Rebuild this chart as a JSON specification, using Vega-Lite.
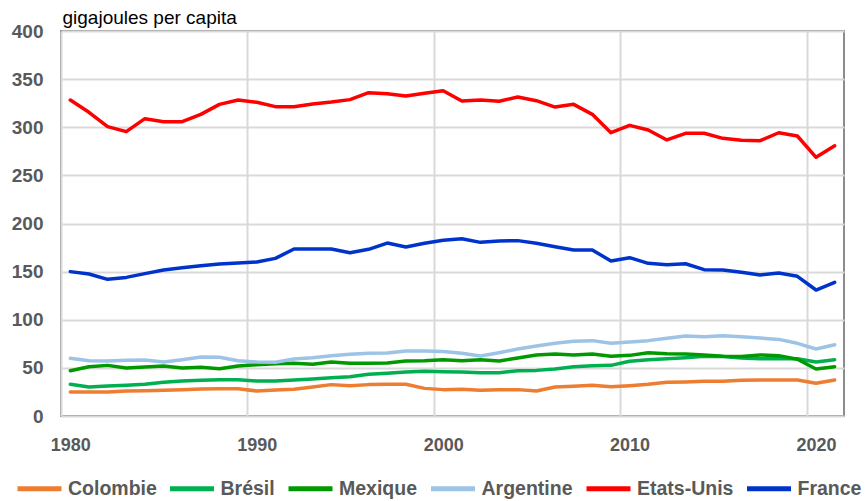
{
 "$schema": "https://vega.github.io/schema/vega-lite/v6.json",
 "width": 783, "height": 385,
 "autosize": {"type": "none"},
 "padding": {"left": 61, "top": 31, "right": 23, "bottom": 85},
 "background": "white",
 "config": {"view": {"stroke": "#8c8c8c", "strokeWidth": 2}, "font": "Liberation Sans"},
 "data": {"values": [
{"year":1980,"pays":"Colombie","gj":24.9},{"year":1981,"pays":"Colombie","gj":24.9},{"year":1982,"pays":"Colombie","gj":24.9},{"year":1983,"pays":"Colombie","gj":26.0},{"year":1984,"pays":"Colombie","gj":26.3},{"year":1985,"pays":"Colombie","gj":26.7},{"year":1986,"pays":"Colombie","gj":27.4},{"year":1987,"pays":"Colombie","gj":28.1},{"year":1988,"pays":"Colombie","gj":28.4},{"year":1989,"pays":"Colombie","gj":28.4},{"year":1990,"pays":"Colombie","gj":26.0},{"year":1991,"pays":"Colombie","gj":27.0},{"year":1992,"pays":"Colombie","gj":27.7},{"year":1993,"pays":"Colombie","gj":30.1},{"year":1994,"pays":"Colombie","gj":32.6},{"year":1995,"pays":"Colombie","gj":31.5},{"year":1996,"pays":"Colombie","gj":32.6},{"year":1997,"pays":"Colombie","gj":32.9},{"year":1998,"pays":"Colombie","gj":32.9},{"year":1999,"pays":"Colombie","gj":28.7},{"year":2000,"pays":"Colombie","gj":27.4},{"year":2001,"pays":"Colombie","gj":27.7},{"year":2002,"pays":"Colombie","gj":26.7},{"year":2003,"pays":"Colombie","gj":27.4},{"year":2004,"pays":"Colombie","gj":27.4},{"year":2005,"pays":"Colombie","gj":26.0},{"year":2006,"pays":"Colombie","gj":30.1},{"year":2007,"pays":"Colombie","gj":30.8},{"year":2008,"pays":"Colombie","gj":31.9},{"year":2009,"pays":"Colombie","gj":30.5},{"year":2010,"pays":"Colombie","gj":31.5},{"year":2011,"pays":"Colombie","gj":32.9},{"year":2012,"pays":"Colombie","gj":35.0},{"year":2013,"pays":"Colombie","gj":35.3},{"year":2014,"pays":"Colombie","gj":36.0},{"year":2015,"pays":"Colombie","gj":36.0},{"year":2016,"pays":"Colombie","gj":37.1},{"year":2017,"pays":"Colombie","gj":37.4},{"year":2018,"pays":"Colombie","gj":37.4},{"year":2019,"pays":"Colombie","gj":37.4},{"year":2020,"pays":"Colombie","gj":34.0},{"year":2021,"pays":"Colombie","gj":37.4},
{"year":1980,"pays":"Brésil","gj":32.9},{"year":1981,"pays":"Brésil","gj":30.1},{"year":1982,"pays":"Brésil","gj":31.2},{"year":1983,"pays":"Brésil","gj":31.9},{"year":1984,"pays":"Brésil","gj":32.9},{"year":1985,"pays":"Brésil","gj":35.0},{"year":1986,"pays":"Brésil","gj":36.4},{"year":1987,"pays":"Brésil","gj":37.1},{"year":1988,"pays":"Brésil","gj":37.7},{"year":1989,"pays":"Brésil","gj":37.7},{"year":1990,"pays":"Brésil","gj":36.4},{"year":1991,"pays":"Brésil","gj":36.4},{"year":1992,"pays":"Brésil","gj":37.4},{"year":1993,"pays":"Brésil","gj":38.4},{"year":1994,"pays":"Brésil","gj":39.8},{"year":1995,"pays":"Brésil","gj":40.8},{"year":1996,"pays":"Brésil","gj":43.3},{"year":1997,"pays":"Brésil","gj":44.3},{"year":1998,"pays":"Brésil","gj":45.7},{"year":1999,"pays":"Brésil","gj":46.4},{"year":2000,"pays":"Brésil","gj":46.1},{"year":2001,"pays":"Brésil","gj":45.7},{"year":2002,"pays":"Brésil","gj":45.0},{"year":2003,"pays":"Brésil","gj":45.0},{"year":2004,"pays":"Brésil","gj":47.1},{"year":2005,"pays":"Brésil","gj":47.4},{"year":2006,"pays":"Brésil","gj":48.8},{"year":2007,"pays":"Brésil","gj":51.2},{"year":2008,"pays":"Brésil","gj":52.3},{"year":2009,"pays":"Brésil","gj":52.6},{"year":2010,"pays":"Brésil","gj":56.8},{"year":2011,"pays":"Brésil","gj":58.5},{"year":2012,"pays":"Brésil","gj":59.5},{"year":2013,"pays":"Brésil","gj":60.6},{"year":2014,"pays":"Brésil","gj":62.0},{"year":2015,"pays":"Brésil","gj":61.7},{"year":2016,"pays":"Brésil","gj":60.3},{"year":2017,"pays":"Brésil","gj":59.5},{"year":2018,"pays":"Brésil","gj":59.5},{"year":2019,"pays":"Brésil","gj":59.5},{"year":2020,"pays":"Brésil","gj":56.1},{"year":2021,"pays":"Brésil","gj":58.5},
{"year":1980,"pays":"Mexique","gj":47.1},{"year":1981,"pays":"Mexique","gj":51.2},{"year":1982,"pays":"Mexique","gj":52.6},{"year":1983,"pays":"Mexique","gj":49.9},{"year":1984,"pays":"Mexique","gj":50.9},{"year":1985,"pays":"Mexique","gj":51.9},{"year":1986,"pays":"Mexique","gj":49.9},{"year":1987,"pays":"Mexique","gj":50.6},{"year":1988,"pays":"Mexique","gj":49.2},{"year":1989,"pays":"Mexique","gj":51.9},{"year":1990,"pays":"Mexique","gj":53.3},{"year":1991,"pays":"Mexique","gj":54.3},{"year":1992,"pays":"Mexique","gj":54.7},{"year":1993,"pays":"Mexique","gj":53.7},{"year":1994,"pays":"Mexique","gj":56.1},{"year":1995,"pays":"Mexique","gj":54.7},{"year":1996,"pays":"Mexique","gj":54.7},{"year":1997,"pays":"Mexique","gj":55.1},{"year":1998,"pays":"Mexique","gj":57.1},{"year":1999,"pays":"Mexique","gj":57.5},{"year":2000,"pays":"Mexique","gj":58.5},{"year":2001,"pays":"Mexique","gj":57.5},{"year":2002,"pays":"Mexique","gj":58.5},{"year":2003,"pays":"Mexique","gj":57.1},{"year":2004,"pays":"Mexique","gj":60.3},{"year":2005,"pays":"Mexique","gj":63.4},{"year":2006,"pays":"Mexique","gj":64.4},{"year":2007,"pays":"Mexique","gj":63.4},{"year":2008,"pays":"Mexique","gj":64.4},{"year":2009,"pays":"Mexique","gj":62.0},{"year":2010,"pays":"Mexique","gj":63.0},{"year":2011,"pays":"Mexique","gj":65.8},{"year":2012,"pays":"Mexique","gj":64.8},{"year":2013,"pays":"Mexique","gj":64.4},{"year":2014,"pays":"Mexique","gj":63.4},{"year":2015,"pays":"Mexique","gj":62.0},{"year":2016,"pays":"Mexique","gj":61.7},{"year":2017,"pays":"Mexique","gj":63.4},{"year":2018,"pays":"Mexique","gj":62.7},{"year":2019,"pays":"Mexique","gj":58.9},{"year":2020,"pays":"Mexique","gj":48.8},{"year":2021,"pays":"Mexique","gj":51.2},
{"year":1980,"pays":"Argentine","gj":59.9},{"year":1981,"pays":"Argentine","gj":57.5},{"year":1982,"pays":"Argentine","gj":57.1},{"year":1983,"pays":"Argentine","gj":57.8},{"year":1984,"pays":"Argentine","gj":58.2},{"year":1985,"pays":"Argentine","gj":56.1},{"year":1986,"pays":"Argentine","gj":58.5},{"year":1987,"pays":"Argentine","gj":61.3},{"year":1988,"pays":"Argentine","gj":61.0},{"year":1989,"pays":"Argentine","gj":57.5},{"year":1990,"pays":"Argentine","gj":56.1},{"year":1991,"pays":"Argentine","gj":55.8},{"year":1992,"pays":"Argentine","gj":59.2},{"year":1993,"pays":"Argentine","gj":60.6},{"year":1994,"pays":"Argentine","gj":62.7},{"year":1995,"pays":"Argentine","gj":64.1},{"year":1996,"pays":"Argentine","gj":65.1},{"year":1997,"pays":"Argentine","gj":65.5},{"year":1998,"pays":"Argentine","gj":67.5},{"year":1999,"pays":"Argentine","gj":67.5},{"year":2000,"pays":"Argentine","gj":67.0},{"year":2001,"pays":"Argentine","gj":65.1},{"year":2002,"pays":"Argentine","gj":62.3},{"year":2003,"pays":"Argentine","gj":65.8},{"year":2004,"pays":"Argentine","gj":69.6},{"year":2005,"pays":"Argentine","gj":72.7},{"year":2006,"pays":"Argentine","gj":75.5},{"year":2007,"pays":"Argentine","gj":77.6},{"year":2008,"pays":"Argentine","gj":78.3},{"year":2009,"pays":"Argentine","gj":75.5},{"year":2010,"pays":"Argentine","gj":76.9},{"year":2011,"pays":"Argentine","gj":78.3},{"year":2012,"pays":"Argentine","gj":80.7},{"year":2013,"pays":"Argentine","gj":83.1},{"year":2014,"pays":"Argentine","gj":82.4},{"year":2015,"pays":"Argentine","gj":83.4},{"year":2016,"pays":"Argentine","gj":82.4},{"year":2017,"pays":"Argentine","gj":81.0},{"year":2018,"pays":"Argentine","gj":79.6},{"year":2019,"pays":"Argentine","gj":75.5},{"year":2020,"pays":"Argentine","gj":69.6},{"year":2021,"pays":"Argentine","gj":74.1},
{"year":1980,"pays":"Etats-Unis","gj":328.3},{"year":1981,"pays":"Etats-Unis","gj":315.5},{"year":1982,"pays":"Etats-Unis","gj":300.6},{"year":1983,"pays":"Etats-Unis","gj":295.4},{"year":1984,"pays":"Etats-Unis","gj":308.9},{"year":1985,"pays":"Etats-Unis","gj":305.8},{"year":1986,"pays":"Etats-Unis","gj":305.8},{"year":1987,"pays":"Etats-Unis","gj":313.4},{"year":1988,"pays":"Etats-Unis","gj":323.8},{"year":1989,"pays":"Etats-Unis","gj":328.3},{"year":1990,"pays":"Etats-Unis","gj":325.9},{"year":1991,"pays":"Etats-Unis","gj":321.4},{"year":1992,"pays":"Etats-Unis","gj":321.4},{"year":1993,"pays":"Etats-Unis","gj":324.2},{"year":1994,"pays":"Etats-Unis","gj":326.2},{"year":1995,"pays":"Etats-Unis","gj":328.7},{"year":1996,"pays":"Etats-Unis","gj":335.9},{"year":1997,"pays":"Etats-Unis","gj":334.9},{"year":1998,"pays":"Etats-Unis","gj":332.5},{"year":1999,"pays":"Etats-Unis","gj":335.3},{"year":2000,"pays":"Etats-Unis","gj":338.0},{"year":2001,"pays":"Etats-Unis","gj":327.3},{"year":2002,"pays":"Etats-Unis","gj":328.3},{"year":2003,"pays":"Etats-Unis","gj":327.0},{"year":2004,"pays":"Etats-Unis","gj":331.4},{"year":2005,"pays":"Etats-Unis","gj":327.6},{"year":2006,"pays":"Etats-Unis","gj":321.0},{"year":2007,"pays":"Etats-Unis","gj":323.8},{"year":2008,"pays":"Etats-Unis","gj":313.4},{"year":2009,"pays":"Etats-Unis","gj":294.3},{"year":2010,"pays":"Etats-Unis","gj":302.0},{"year":2011,"pays":"Etats-Unis","gj":297.1},{"year":2012,"pays":"Etats-Unis","gj":286.8},{"year":2013,"pays":"Etats-Unis","gj":293.7},{"year":2014,"pays":"Etats-Unis","gj":293.7},{"year":2015,"pays":"Etats-Unis","gj":288.5},{"year":2016,"pays":"Etats-Unis","gj":286.4},{"year":2017,"pays":"Etats-Unis","gj":286.0},{"year":2018,"pays":"Etats-Unis","gj":294.3},{"year":2019,"pays":"Etats-Unis","gj":290.9},{"year":2020,"pays":"Etats-Unis","gj":268.8},{"year":2021,"pays":"Etats-Unis","gj":280.8},
{"year":1980,"pays":"France","gj":150.0},{"year":1981,"pays":"France","gj":147.5},{"year":1982,"pays":"France","gj":142.0},{"year":1983,"pays":"France","gj":144.0},{"year":1984,"pays":"France","gj":147.9},{"year":1985,"pays":"France","gj":151.7},{"year":1986,"pays":"France","gj":154.1},{"year":1987,"pays":"France","gj":156.2},{"year":1988,"pays":"France","gj":157.9},{"year":1989,"pays":"France","gj":159.0},{"year":1990,"pays":"France","gj":160.0},{"year":1991,"pays":"France","gj":163.8},{"year":1992,"pays":"France","gj":173.5},{"year":1993,"pays":"France","gj":173.5},{"year":1994,"pays":"France","gj":173.5},{"year":1995,"pays":"France","gj":169.7},{"year":1996,"pays":"France","gj":173.2},{"year":1997,"pays":"France","gj":179.7},{"year":1998,"pays":"France","gj":175.6},{"year":1999,"pays":"France","gj":179.4},{"year":2000,"pays":"France","gj":182.5},{"year":2001,"pays":"France","gj":184.2},{"year":2002,"pays":"France","gj":180.4},{"year":2003,"pays":"France","gj":181.8},{"year":2004,"pays":"France","gj":182.2},{"year":2005,"pays":"France","gj":179.4},{"year":2006,"pays":"France","gj":175.9},{"year":2007,"pays":"France","gj":172.5},{"year":2008,"pays":"France","gj":172.5},{"year":2009,"pays":"France","gj":161.0},{"year":2010,"pays":"France","gj":164.5},{"year":2011,"pays":"France","gj":158.6},{"year":2012,"pays":"France","gj":157.2},{"year":2013,"pays":"France","gj":158.2},{"year":2014,"pays":"France","gj":152.0},{"year":2015,"pays":"France","gj":151.7},{"year":2016,"pays":"France","gj":149.3},{"year":2017,"pays":"France","gj":146.5},{"year":2018,"pays":"France","gj":148.6},{"year":2019,"pays":"France","gj":145.1},{"year":2020,"pays":"France","gj":130.9},{"year":2021,"pays":"France","gj":138.9}
 ]},
 "mark": {"type": "line", "strokeWidth": 3.5, "strokeJoin": "round", "strokeCap": "round"},
 "encoding": {
  "x": {"field": "year", "type": "quantitative",
   "scale": {"domain": [1979.5, 2021.5], "nice": false, "zero": false},
   "axis": {"values": [1979.5, 1989.5, 1999.5, 2009.5, 2019.5],
    "labelExpr": "format(datum.value + 0.5, 'd')", "labelOffset": 9.3,
    "title": null, "domain": false, "ticks": false,
    "grid": true, "gridColor": "#d9d9d9", "gridWidth": 2,
    "labelFont": "Liberation Sans", "labelFontSize": 18, "labelFontWeight": "bold",
    "labelColor": "#595959", "labelPadding": 20, "labelFlush": false}},
  "y": {"field": "gj", "type": "quantitative",
   "scale": {"domain": [0, 400], "nice": false},
   "axis": {"values": [0, 50, 100, 150, 200, 250, 300, 350, 400],
    "title": "gigajoules per capita", "titleAngle": 0, "titleX": 1, "titleY": -4,
    "titleAlign": "left", "titleBaseline": "bottom", "titleFontWeight": "normal",
    "titleFontSize": 19, "titleColor": "#000000", "titleFont": "Liberation Sans",
    "domain": false, "ticks": false,
    "grid": true, "gridColor": "#d9d9d9", "gridWidth": 2,
    "labelFont": "Liberation Sans", "labelFontSize": 19, "labelFontWeight": "bold",
    "labelColor": "#595959", "labelPadding": 18}},
  "color": {"field": "pays", "type": "nominal",
   "scale": {"domain": ["Colombie", "Brésil", "Mexique", "Argentine", "Etats-Unis", "France"],
    "range": ["#ED7D31", "#00B050", "#009A00", "#9DC3E6", "#FF0000", "#0033CC"]},
   "legend": {"title": null, "orient": "none", "legendX": -46, "legendY": 433,
    "direction": "horizontal", "symbolType": "stroke", "symbolSize": 1936,
    "symbolStrokeWidth": 5, "labelFont": "Liberation Sans", "labelFontSize": 19.5,
    "labelFontWeight": "bold", "labelColor": "#595959", "labelOffset": 4,
    "columnPadding": 2.5, "labelLimit": 300}}
 }
}
